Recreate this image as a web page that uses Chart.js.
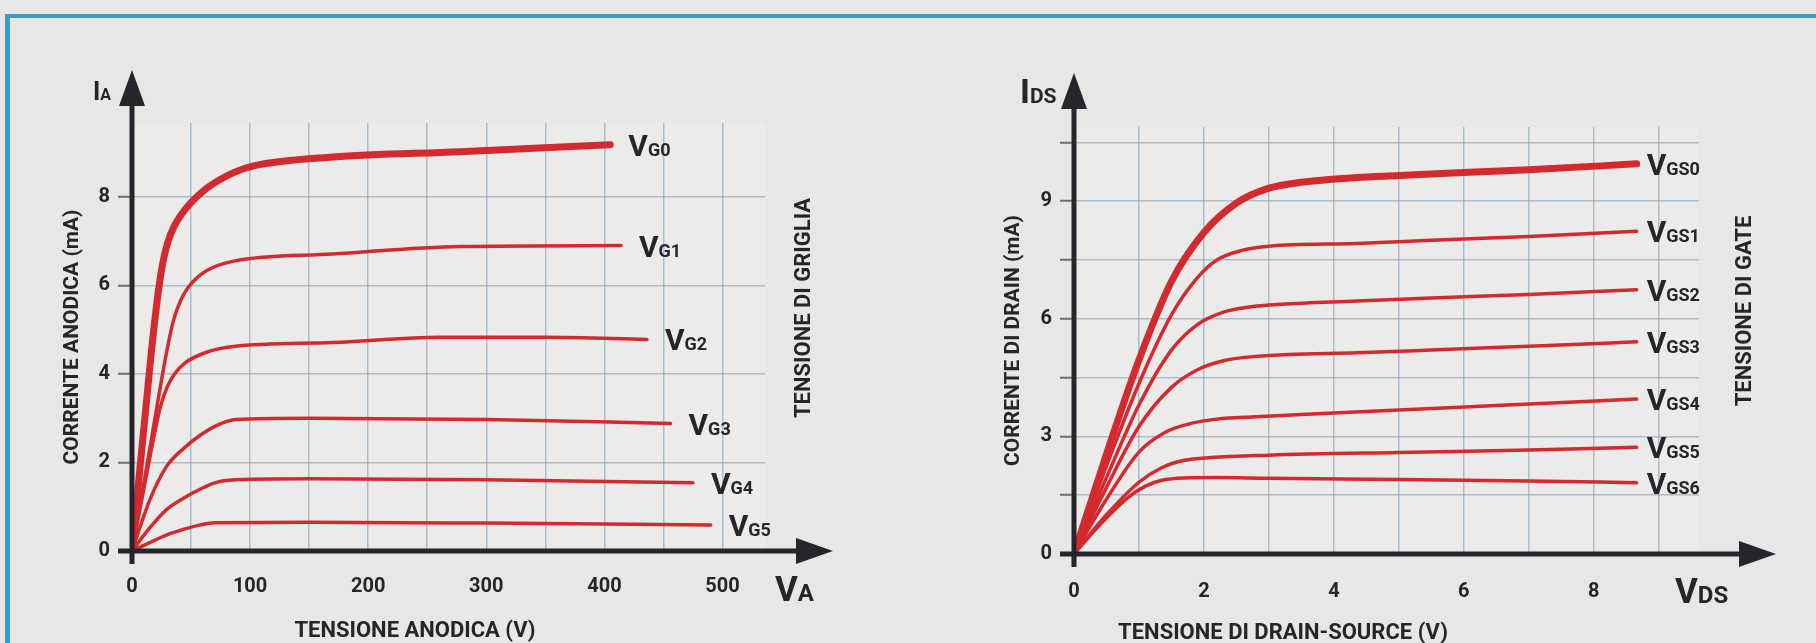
<!DOCTYPE html>
<html>
<head>
<meta charset="utf-8">
<script src="https://cdn.jsdelivr.net/npm/chart.js@4.4.1/dist/chart.umd.min.js"></script>
<style>
  html, body { margin: 0; padding: 0; background: #e8e7e6; }
  body { width: 1816px; height: 643px; position: relative; overflow: hidden; }
  .frame {
    position: absolute; left: 5px; top: 14px; right: -10px; bottom: -10px;
    border-top: 4px solid #3a9fcb; border-left: 5px solid #3a9fcb;
  }
  canvas { position: absolute; top: 0; }
  #tubeChart { left: 0; }
  #fetChart { left: 906px; }
</style>
</head>
<body>
<div class="frame"></div>
<canvas id="tubeChart" width="906" height="643"></canvas>
<canvas id="fetChart" width="910" height="643"></canvas>
<script>
// ---- values ----

// triode: anode voltage (V) / anode current (mA), one pair per grid voltage
const tubeSubs = ["G0", "G1", "G2", "G3", "G4", "G5"];
const tubeXLabels = [0, 100, 200, 300, 400, 500];
const tubeYLabels = [0, 2, 4, 6, 8];

const vg0Va = [0, 16, 22, 26, 30, 36, 46, 63, 86, 103, 170, 278, 405];
const vg0Ia = [0, 4.4, 5.8, 6.5, 6.95, 7.35, 7.75, 8.19, 8.55, 8.7, 8.9, 9.02, 9.18];
const vg1Va = [0, 15, 29, 35, 41, 48, 63, 86, 170, 278, 414];
const vg1Ia = [0, 2.3, 4.45, 5.2, 5.65, 5.97, 6.33, 6.55, 6.71, 6.88, 6.9];
const vg2Va = [0, 12.5, 24, 30, 36, 45, 63, 86, 170, 261, 350, 436];
const vg2Ia = [0, 1.75, 3.25, 3.72, 4.0, 4.25, 4.49, 4.62, 4.71, 4.83, 4.83, 4.78];
const vg3Va = [0, 15, 29, 43, 58, 72, 88, 150, 300, 456];
const vg3Ia = [0, 1.15, 1.9, 2.3, 2.62, 2.84, 2.97, 3.0, 2.97, 2.88];
const vg4Va = [0, 15, 29, 44, 58, 70, 82, 150, 300, 475];
const vg4Ia = [0, 0.52, 0.93, 1.2, 1.4, 1.54, 1.6, 1.63, 1.61, 1.54];
const vg5Va = [0, 15, 29, 45, 58, 70, 150, 300, 490];
const vg5Ia = [0, 0.19, 0.36, 0.5, 0.59, 0.64, 0.65, 0.63, 0.59];

// FET: drain-source voltage (V) / drain current (mA), one pair per gate voltage
const fetSubs = ["GS0", "GS1", "GS2", "GS3", "GS4", "GS5", "GS6"];
const fetXLabels = [0, 2, 4, 6, 8];
const fetYLabels = [0, 3, 6, 9];

const vgs0Vd = [0, 0.5, 1.0, 1.5, 2.0, 2.5, 3.0, 3.5, 4.35, 5.0, 6.0, 7.0, 8.66];
const vgs0Id = [0, 2.55, 4.95, 6.95, 8.2, 8.95, 9.33, 9.48, 9.6, 9.65, 9.73, 9.8, 9.95];
const vgs1Vd = [0, 0.5, 1.0, 1.5, 1.9, 2.2, 2.6, 3.0, 4.35, 5.5, 7.0, 8.66];
const vgs1Id = [0, 2.25, 4.35, 6.1, 7.05, 7.5, 7.75, 7.85, 7.92, 8.0, 8.1, 8.23];
const vgs2Vd = [0, 0.5, 1.0, 1.5, 1.9, 2.3, 2.7, 3.2, 4.35, 5.5, 7.0, 8.66];
const vgs2Id = [0, 1.95, 3.8, 5.2, 5.85, 6.17, 6.3, 6.37, 6.45, 6.53, 6.62, 6.74];
const vgs3Vd = [0, 0.5, 1.0, 1.5, 1.9, 2.3, 2.8, 3.3, 4.35, 5.5, 7.0, 8.66];
const vgs3Id = [0, 1.7, 3.25, 4.25, 4.7, 4.93, 5.04, 5.09, 5.13, 5.2, 5.3, 5.41];
const vgs4Vd = [0, 0.5, 1.0, 1.4, 1.8, 2.2, 2.8, 3.5, 5.0, 6.5, 8.66];
const vgs4Id = [0, 1.4, 2.6, 3.1, 3.33, 3.44, 3.5, 3.56, 3.67, 3.79, 3.95];
const vgs5Vd = [0, 0.5, 1.0, 1.35, 1.7, 2.1, 3.0, 5.0, 7.0, 8.66];
const vgs5Id = [0, 1.0, 1.83, 2.2, 2.39, 2.46, 2.52, 2.59, 2.65, 2.72];
const vgs6Vd = [0, 0.4, 0.83, 1.1, 1.35, 1.7, 2.2, 3.0, 5.0, 7.0, 8.66];
const vgs6Id = [0, 0.75, 1.44, 1.73, 1.88, 1.94, 1.95, 1.93, 1.9, 1.86, 1.82];

// ---- styling ----
const FONT = "Roboto, 'DejaVu Sans Condensed', sans-serif";
const INK = "#25252b";
const RED = "#d32a30";
const GRID = "rgba(120, 160, 190, 0.6)";

Chart.defaults.font.family = FONT;
Chart.defaults.font.weight = "bold";
Chart.defaults.color = INK;

function pairs(xs, ys) {
  return xs.map(function (x, i) { return { x: x, y: ys[i] }; });
}

function curve(xs, ys, thick) {
  return {
    data: pairs(xs, ys),
    borderColor: RED,
    borderWidth: thick ? 7 : 3.5,
    pointRadius: 0,
    cubicInterpolationMode: "monotone",
    borderCapStyle: "round",
    fill: false,
  };
}

function onList(list) {
  return function (value) {
    return list.some(function (v) { return Math.abs(v - value) < 1e-6; }) ? String(value) : "";
  };
}

// "V" + smaller subscript, sharing a baseline
function drawSub(ctx, x, y, main, sub, big, small) {
  ctx.textAlign = "left";
  ctx.textBaseline = "alphabetic";
  ctx.font = "bold " + big + "px " + FONT;
  ctx.fillText(main, x, y);
  const w = ctx.measureText(main).width;
  ctx.font = "bold " + small + "px " + FONT;
  ctx.fillText(sub, x + w, y);
}

function drawRotated(ctx, text, x, y, px) {
  ctx.save();
  ctx.translate(x, y);
  ctx.rotate(-Math.PI / 2);
  ctx.textAlign = "center";
  ctx.textBaseline = "middle";
  ctx.font = "bold " + px + "px " + FONT;
  ctx.fillText(text, 0, 0);
  ctx.restore();
}

// plot background, thick axes with arrows, curve names and loose captions
const decorPlugin = {
  id: "decor",
  beforeDraw: function (chart) {
    const a = chart.chartArea;
    const ctx = chart.ctx;
    ctx.save();
    ctx.fillStyle = "#ecebea";
    ctx.fillRect(a.left, a.top, a.right - a.left, a.bottom - a.top);
    ctx.restore();
  },
  afterDatasetsDraw: function (chart, args, o) {
    const ctx = chart.ctx;
    const x0 = chart.scales.x.getPixelForValue(0);
    const y0 = chart.scales.y.getPixelForValue(0);
    ctx.save();
    ctx.strokeStyle = INK;
    ctx.fillStyle = INK;
    ctx.lineWidth = 5;

    // horizontal axis
    ctx.beginPath();
    ctx.moveTo(x0 - 14, y0);
    ctx.lineTo(o.xTip - 30, y0);
    ctx.stroke();
    ctx.beginPath();
    ctx.moveTo(o.xTip, y0);
    ctx.lineTo(o.xTip - 37, y0 - 13);
    ctx.lineTo(o.xTip - 37, y0 + 13);
    ctx.closePath();
    ctx.fill();

    // vertical axis
    ctx.beginPath();
    ctx.moveTo(x0, y0 + 13);
    ctx.lineTo(x0, o.yTip + 30);
    ctx.stroke();
    ctx.beginPath();
    ctx.moveTo(x0, o.yTip);
    ctx.lineTo(x0 - 13, o.yTip + 36);
    ctx.lineTo(x0 + 13, o.yTip + 36);
    ctx.closePath();
    ctx.fill();

    // curve names at the end of each line
    chart.data.datasets.forEach(function (ds, i) {
      const pts = chart.getDatasetMeta(i).data;
      const last = pts[pts.length - 1];
      drawSub(ctx, last.x + o.gap, last.y + 11, "V", o.subs[i], 30, 18);
    });

    // axis symbols
    drawSub(ctx, o.yName.x, o.yName.y, "I", o.yName.sub, o.yName.big, o.yName.small);
    drawSub(ctx, o.xName.x, o.xName.y, "V", o.xName.sub, 35, 24);

    // captions
    ctx.textAlign = "center";
    ctx.textBaseline = "middle";
    ctx.font = "bold 22px " + FONT;
    ctx.fillText(o.xTitle.text, o.xTitle.x, o.xTitle.y);
    drawRotated(ctx, o.side.text, o.side.x, o.side.y, 22);
    ctx.restore();
  },
};

function fixWidth(w) {
  return function (scale) { scale.width = w; };
}
function fixHeight(h) {
  return function (scale) { scale.height = h; };
}

// ---- triode chart ----
const tubeCtx = document.getElementById("tubeChart").getContext("2d");
const tubeChart = new Chart(tubeCtx, {
  type: "line",
  data: {
    datasets: [
      curve(vg0Va, vg0Ia, true),
      curve(vg1Va, vg1Ia),
      curve(vg2Va, vg2Ia),
      curve(vg3Va, vg3Ia),
      curve(vg4Va, vg4Ia),
      curve(vg5Va, vg5Ia),
    ],
  },
  options: {
    responsive: false,
    animation: false,
    layout: { padding: { left: 20, top: 123, right: 141, bottom: 0 } },
    plugins: {
      legend: { display: false },
      tooltip: { enabled: false },
      decor: {
        subs: tubeSubs,
        gap: 18,
        xTip: 833,
        yTip: 70,
        yName: { x: 93, y: 100, sub: "A", big: 25, small: 16 },
        xName: { x: 775, y: 601, sub: "A" },
        xTitle: { text: "TENSIONE ANODICA (V)", x: 415, y: 631 },
        side: { text: "TENSIONE DI GRIGLIA", x: 804, y: 308 },
      },
    },
    scales: {
      x: {
        type: "linear",
        min: 0,
        max: 536,
        afterFit: fixHeight(92),
        grid: { color: GRID, lineWidth: 1.5, drawTicks: false },
        border: { display: false },
        ticks: {
          stepSize: 50,
          includeBounds: false,
          autoSkip: false,
          maxRotation: 0,
          padding: 24,
          font: { size: 20, weight: "bold" },
          callback: onList(tubeXLabels),
        },
      },
      y: {
        type: "linear",
        min: 0,
        max: 9.67,
        afterFit: fixWidth(112),
        grid: { color: GRID, lineWidth: 1.5, tickLength: 14, tickColor: "#6b6e72", tickWidth: 2 },
        border: { display: false },
        title: {
          display: true,
          text: "CORRENTE ANODICA (mA)",
          font: { size: 21, weight: "bold" },
          padding: { top: 40.4, bottom: 0 },
        },
        ticks: {
          stepSize: 2,
          includeBounds: false,
          padding: 8,
          font: { size: 20, weight: "bold" },
          callback: onList(tubeYLabels),
        },
      },
    },
  },
  plugins: [decorPlugin],
});

// ---- FET chart ----
const fetCtx = document.getElementById("fetChart").getContext("2d");
const fetChart = new Chart(fetCtx, {
  type: "line",
  data: {
    datasets: [
      curve(vgs0Vd, vgs0Id, true),
      curve(vgs1Vd, vgs1Id),
      curve(vgs2Vd, vgs2Id),
      curve(vgs3Vd, vgs3Id),
      curve(vgs4Vd, vgs4Id),
      curve(vgs5Vd, vgs5Id),
      curve(vgs6Vd, vgs6Id),
    ],
  },
  options: {
    responsive: false,
    animation: false,
    layout: { padding: { left: 20, top: 127, right: 117, bottom: 0 } },
    plugins: {
      legend: { display: false },
      tooltip: { enabled: false },
      decor: {
        subs: fetSubs,
        gap: 10,
        xTip: 870,
        yTip: 73,
        yName: { x: 114, y: 103, sub: "DS", big: 34, small: 21 },
        xName: { x: 769, y: 603, sub: "DS" },
        xTitle: { text: "TENSIONE DI DRAIN-SOURCE (V)", x: 377, y: 633 },
        side: { text: "TENSIONE DI GATE", x: 839, y: 311 },
      },
    },
    scales: {
      x: {
        type: "linear",
        min: 0,
        max: 9.62,
        afterFit: fixHeight(89),
        grid: { color: GRID, lineWidth: 1.5, drawTicks: false },
        border: { display: false },
        ticks: {
          stepSize: 1,
          includeBounds: false,
          autoSkip: false,
          maxRotation: 0,
          padding: 26,
          font: { size: 20, weight: "bold" },
          callback: onList(fetXLabels),
        },
      },
      y: {
        type: "linear",
        min: 0,
        max: 10.89,
        afterFit: fixWidth(148),
        grid: { color: GRID, lineWidth: 1.5, tickLength: 14, tickColor: "#6b6e72", tickWidth: 2 },
        border: { display: false },
        title: {
          display: true,
          text: "CORRENTE DI DRAIN (mA)",
          font: { size: 21, weight: "bold" },
          padding: { top: 75.4, bottom: 0 },
        },
        ticks: {
          stepSize: 1.5,
          includeBounds: false,
          padding: 8,
          font: { size: 20, weight: "bold" },
          callback: onList(fetYLabels),
        },
      },
    },
  },
  plugins: [decorPlugin],
});
</script>
</body>
</html>
